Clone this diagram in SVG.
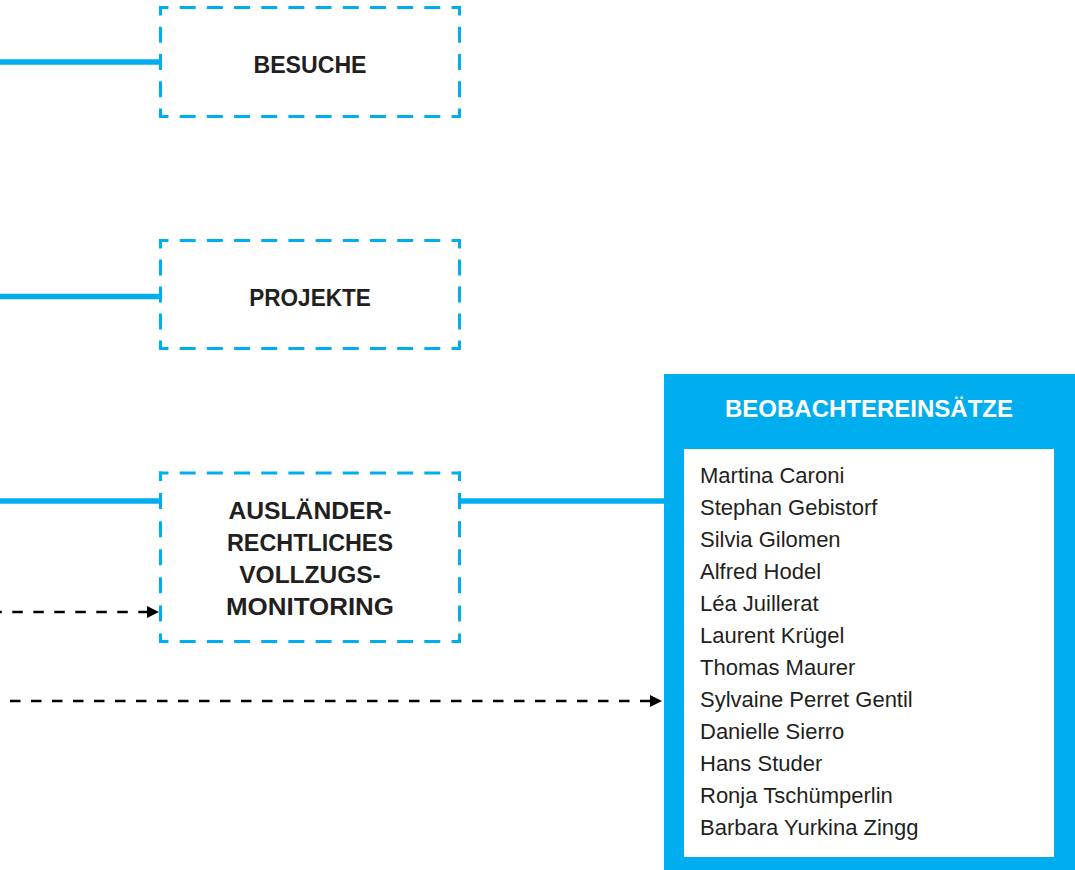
<svg xmlns="http://www.w3.org/2000/svg" width="1075" height="870" viewBox="0 0 1075 870">
  <defs>
    <style>
      .dl { fill: none; stroke: #00aeef; stroke-width: 3; stroke-linecap: butt; stroke-dashoffset: 6.5; }
      .h { stroke-dasharray: 16 11.182; }
      .v1 { stroke-dasharray: 16 11.25; }
      .v2 { stroke-dasharray: 16 11; }
      .v3 { stroke-dasharray: 16 12.083; }
      .conn { fill: none; stroke: #00aeef; stroke-width: 5.5; }
      .dash { fill: none; stroke: #000; stroke-width: 2.6; stroke-dasharray: 10.5 10.5; }
      .lbl { font-family: "Liberation Sans", Arial, sans-serif; font-weight: bold; font-size: 24px; fill: #231f20; text-anchor: middle; }
      .hdr { font-family: "Liberation Sans", Arial, sans-serif; font-weight: bold; font-size: 24px; fill: #ffffff; text-anchor: middle; }
      .nm { font-family: "Liberation Sans", Arial, sans-serif; font-size: 22px; fill: #231f20; }
    </style>
    <marker id="ah" markerUnits="userSpaceOnUse" markerWidth="12" markerHeight="12" refX="0" refY="6" orient="auto" viewBox="0 0 12 12">
      <path d="M0,0 L12,6 L0,12 Z" fill="#000"/>
    </marker>
  </defs>

  <g id="connectors">
    <path class="conn" d="M0 62 H160.5"/>
    <path class="conn" d="M0 296.5 H160.5"/>
    <path class="conn" d="M0 501 H160.5"/>
    <path class="conn" d="M459.5 501 H664"/>
    <path class="dash" style="stroke-dashoffset:8.7" d="M0 612 H147" marker-end="url(#ah)"/>
    <path class="dash" style="stroke-dashoffset:11" d="M0 701 H650" marker-end="url(#ah)"/>
  </g>

  <g id="besuche">
    <line class="dl h" x1="159" y1="7.5" x2="461" y2="7.5"/>
    <line class="dl h" x1="159" y1="116.5" x2="461" y2="116.5"/>
    <line class="dl v1" x1="160.5" y1="6" x2="160.5" y2="118"/>
    <line class="dl v1" x1="459.5" y1="6" x2="459.5" y2="118"/>
    <text class="lbl" x="310" y="72.5" textLength="113" lengthAdjust="spacingAndGlyphs">BESUCHE</text>
  </g>

  <g id="projekte">
    <line class="dl h" x1="159" y1="240.5" x2="461" y2="240.5"/>
    <line class="dl h" x1="159" y1="348.5" x2="461" y2="348.5"/>
    <line class="dl v2" x1="160.5" y1="239" x2="160.5" y2="350"/>
    <line class="dl v2" x1="459.5" y1="239" x2="459.5" y2="350"/>
    <text class="lbl" x="310" y="306" textLength="121.5" lengthAdjust="spacingAndGlyphs">PROJEKTE</text>
  </g>

  <g id="vollzugsmonitoring">
    <line class="dl h" x1="159" y1="473" x2="461" y2="473"/>
    <line class="dl h" x1="159" y1="641.5" x2="461" y2="641.5"/>
    <line class="dl v3" x1="160.5" y1="471.5" x2="160.5" y2="643"/>
    <line class="dl v3" x1="459.5" y1="471.5" x2="459.5" y2="643"/>
    <text class="lbl" x="310" y="518.5" textLength="163" lengthAdjust="spacingAndGlyphs">AUSLÄNDER-</text>
    <text class="lbl" x="310" y="550.8" textLength="166" lengthAdjust="spacingAndGlyphs">RECHTLICHES</text>
    <text class="lbl" x="310" y="583.1" textLength="141.5" lengthAdjust="spacingAndGlyphs">VOLLZUGS-</text>
    <text class="lbl" x="310" y="615.4" textLength="168" lengthAdjust="spacingAndGlyphs">MONITORING</text>
  </g>

  <g id="beobachtereinsaetze">
    <rect x="664" y="374" width="411" height="496" fill="#00aeef"/>
    <rect x="684" y="449" width="370" height="408" fill="#ffffff"/>
    <text class="hdr" x="869" y="416.5">BEOBACHTEREINSÄTZE</text>
    <text class="nm" x="700" y="482.5">Martina Caroni</text>
    <text class="nm" x="700" y="514.5">Stephan Gebistorf</text>
    <text class="nm" x="700" y="546.6">Silvia Gilomen</text>
    <text class="nm" x="700" y="578.6">Alfred Hodel</text>
    <text class="nm" x="700" y="610.7">Léa Juillerat</text>
    <text class="nm" x="700" y="642.7">Laurent Krügel</text>
    <text class="nm" x="700" y="674.8">Thomas Maurer</text>
    <text class="nm" x="700" y="706.8">Sylvaine Perret Gentil</text>
    <text class="nm" x="700" y="738.9">Danielle Sierro</text>
    <text class="nm" x="700" y="770.9">Hans Studer</text>
    <text class="nm" x="700" y="803">Ronja Tschümperlin</text>
    <text class="nm" x="700" y="835">Barbara Yurkina Zingg</text>
  </g>
</svg>
